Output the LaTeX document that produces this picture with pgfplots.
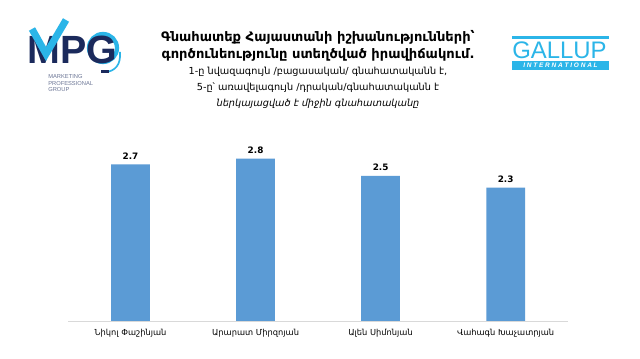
\documentclass[border=0pt]{standalone}
\usepackage{pgfplots}
\pgfplotsset{compat=1.18}
\usepackage{fontspec}
\setmainfont{DejaVu Sans}
\newfontfamily\logofont{Liberation Sans}
\definecolor{barblue}{HTML}{5B9BD5}
\definecolor{navy}{HTML}{1B2A5C}
\definecolor{logocyan}{HTML}{2BB5E8}
\definecolor{axisgray}{HTML}{D9D9D9}
\begin{document}
\begin{tikzpicture}
\begin{scope}[x=0.025cm,y=0.025cm]
\path[use as bounding box, fill=white] (0,0) rectangle (640,359);
% title
\node[font=\fontsize{9.3}{11}\selectfont\bfseries] at (318,322) {Գնահատեք Հայաստանի իշխանությունների՝};
\node[font=\fontsize{9.3}{11}\selectfont\bfseries] at (318,304) {գործունեությունը ստեղծված իրավիճակում.};
\node[font=\fontsize{6.9}{9}\selectfont] at (318,287) {1-ը նվազագույն /բացասական/ գնահատականն է,};
\node[font=\fontsize{6.9}{9}\selectfont] at (318,271) {5-ը՝ առավելագույն /դրական/գնահատականն է};
\node[font=\fontsize{6.9}{9}\selectfont\itshape] at (318,255) {ներկայացված է միջին գնահատականը};
% MPG logo
\draw[logocyan, line width=3pt] (103,311) circle (14);
\node[anchor=base west, font=\logofont\fontsize{28}{28}\selectfont\bfseries, text=navy, inner sep=0] at (27,295) {\smash{MPG}};
\draw[logocyan, line width=5pt, line cap=butt] (32,330) -- (46,305) -- (66,339);
\draw[logocyan, line width=1.2pt] (120,307) .. controls (121,294) and (115,288) .. (106,287);
\fill[navy] (101,285.5) rectangle (109,288.5);
\node[anchor=north west, align=left, font=\logofont\fontsize{4.1}{4.8}\selectfont, text=navy!65, inner sep=0] at (48,285) {MARKETING\\PROFESSIONAL\\GROUP};
% Gallup logo
\fill[logocyan] (512,323) rectangle (609,320);
\node[anchor=base west, font=\logofont\fontsize{17}{17}\selectfont, text=logocyan, inner sep=0] at (512,300) {GALLUP};
\fill[logocyan] (512,298) rectangle (609,289);
\node[font=\logofont\fontsize{4.6}{5}\selectfont\bfseries\itshape, text=white] at (560.5,293.5) {I N T E R N A T I O N A L};
\end{scope}
\begin{axis}[
  at={(1.7cm,0.95cm)}, anchor=south west,
  scale only axis, width=12.5cm, height=4.35cm,
  ymin=0, ymax=3, xmin=-0.5, xmax=3.5,
  axis x line=bottom, axis y line=none,
  x axis line style={-, draw=axisgray},
  ybar, bar width=0.31,
  xtick=data,
  xticklabels={Նիկոլ Փաշինյան, Արարատ Միրզոյան, Ալեն Սիմոնյան, Վահագն Խաչատրյան},
  major tick length=0,
  xticklabel style={font=\fontsize{5.9}{7}\selectfont, yshift=-2pt},
  nodes near coords,
  nodes near coords style={font=\fontsize{6.3}{7}\selectfont\bfseries, /pgf/number format/.cd, fixed, fixed zerofill, precision=1, assume math mode=true},
  clip=false,
]
\addplot[fill=barblue, draw=none] coordinates {(0,2.7) (1,2.8) (2,2.5) (3,2.3)};
\end{axis}
\end{tikzpicture}
\end{document}
